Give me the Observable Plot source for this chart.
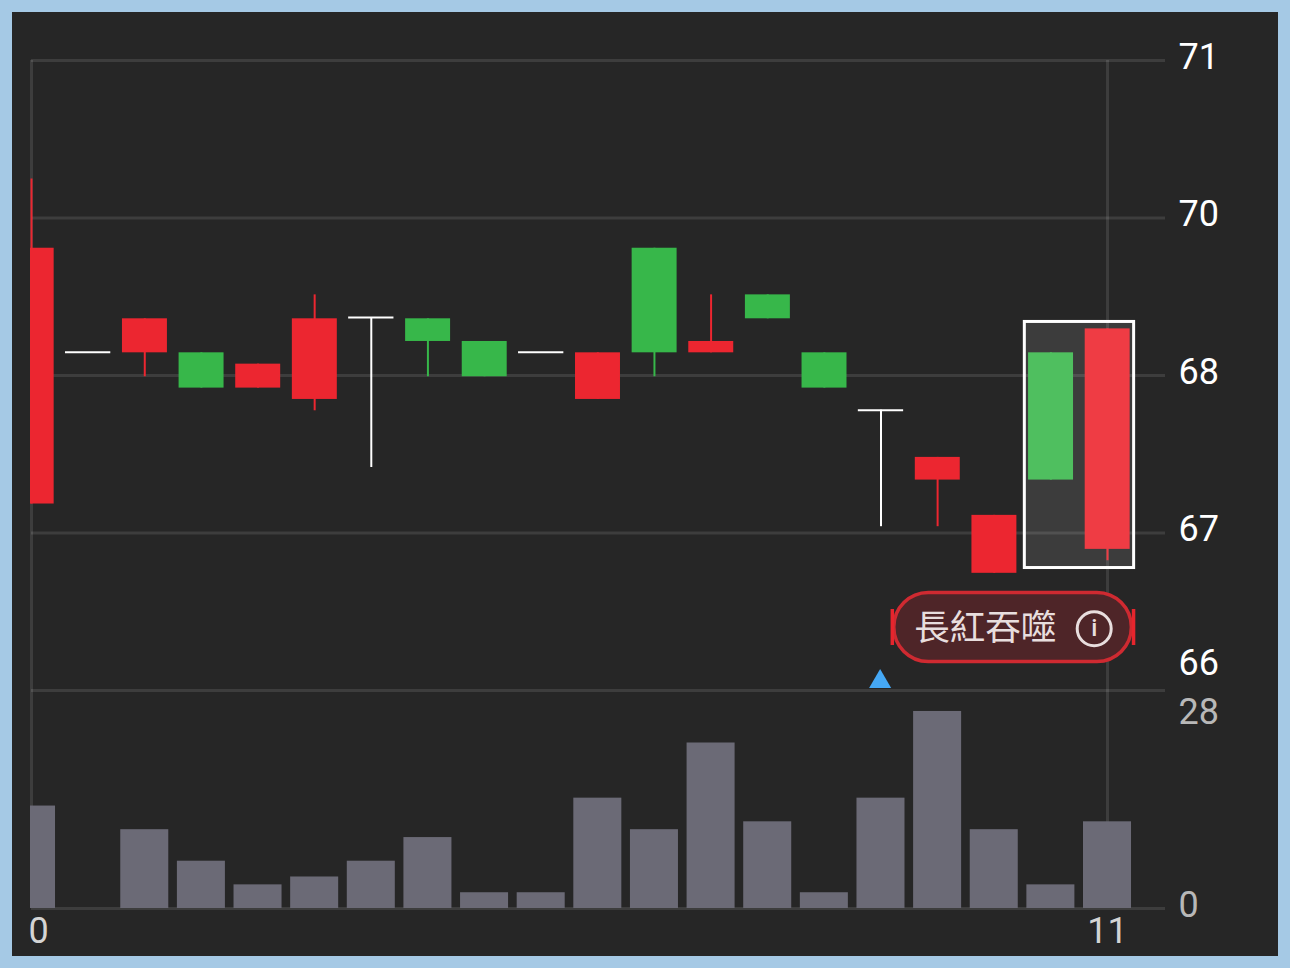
<!DOCTYPE html>
<html>
<head>
<meta charset="utf-8">
<script src="https://cdn.jsdelivr.net/npm/d3@7"></script>
<script src="https://cdn.jsdelivr.net/npm/@observablehq/plot@0.6"></script>
<style>
html,body{margin:0;padding:0;width:1290px;height:968px;background:#a5c9e5;overflow:hidden}
#panel{position:absolute;left:12px;top:12px;width:1266px;height:944px;background:#262626}
#top,#bottom{position:absolute;left:0}
#top{top:0}#bottom{top:690px}
svg{display:block}
</style>
</head>
<body>
<div id="panel"></div>
<div id="top"></div>
<div id="bottom"></div>
<script>
const opens  = [67.48,68.685,68.68,68.68,68.40,68.31,68.96,68.95,68.77,68.685,68.31,69.51,68.68,69.14,68.68,68.225,67.67,66.93,68.68,67.12];
const closes = [69.51,68.685,68.95,68.40,68.59,68.95,68.96,68.77,68.49,68.685,68.68,68.68,68.77,68.95,68.40,68.225,67.85,67.39,67.67,68.87];
const highs  = [70.06,68.685,68.95,68.68,68.59,69.14,68.96,68.95,68.77,68.685,68.68,69.51,69.14,69.14,68.68,68.225,67.85,67.39,68.68,68.87];
const lows   = [67.48,68.685,68.49,68.40,68.40,68.22,67.77,68.49,68.49,68.685,68.31,68.49,68.68,68.95,68.40,67.30,67.30,66.93,67.67,67.03];
const volumes = [13,0,10,6,3,4,6,9,2,2,14,10,21,11,2,14,25,10,3,11];

const priceTicks = [71,69.75,68.5,67.25,66];
const priceLabels = ["71","70","68","67","66"];
const volumeTicks = [27.66,0];
const volumeLabels = ["28","0"];
const timeTicks = [0,19];
const timeLabels = ["0","11"];
const patternName = "長紅吞噬";
const highlightFrom = 18;

const kinds = ["up","down","flat","upHi","downHi"];
const kindColors = ["#ec2630","#37b74a","#ffffff","#ef3c44","#4fbf5f"];
const candles = opens.map((o,i)=>{
  const dir = closes[i]>o ? "up" : closes[i]<o ? "down" : "flat";
  return {i,o,c:closes[i],h:highs[i],l:lows[i],kind: i>=highlightFrom ? dir+"Hi" : dir};
});
const bars = volumes.map((v,i)=>({i,v}));

const xScale = {domain:[-0.0177,20.024],axis:null};
const font = "Roboto, sans-serif";
const gridColor = "rgba(255,255,255,0.11)";
const halfBody = 0.4, halfBar = 0.424;
const bodyShift = 0.006;

const priceChart = Plot.plot({
  width:1290,height:692,marginLeft:30,marginRight:125,marginTop:60,marginBottom:2,
  style:{background:"transparent",fontFamily:font},
  x:xScale,
  y:{domain:[66,71],range:[690,60],axis:null},
  color:{domain:kinds,range:kindColors},
  marks:[
    Plot.rect([0],{x1:17.54,x2:19.47,y1:68.925,y2:66.972,fill:"#3c3c3c"}),
    Plot.ruleY(priceTicks,{x1:0,x2:20.024,stroke:gridColor,strokeWidth:3}),
    Plot.ruleX(timeTicks,{y1:66,y2:71,stroke:gridColor,strokeWidth:3}),
    Plot.rect([0],{x1:17.54,x2:19.47,y1:68.925,y2:66.972,fill:"none",stroke:"#fff",strokeWidth:3}),
    Plot.ruleX(candles,{x:"i",y1:"l",y2:"h",stroke:"kind",strokeWidth:2,clip:true}),
    Plot.rect(candles.filter(d=>d.o!==d.c),{x1:d=>d.i-halfBody+bodyShift,x2:d=>d.i+halfBody,y1:"o",y2:"c",fill:"kind",inset:0,clip:true}),
    Plot.ruleY(candles.filter(d=>d.o===d.c),{y:"o",x1:d=>d.i-halfBody,x2:d=>d.i+halfBody,stroke:"kind",strokeWidth:2}),
    Plot.text(priceTicks.slice(0,4),{y:d=>d,x:20.024,text:(d,i)=>priceLabels[i],dx:13,dy:-3.5,textAnchor:"start",fill:"#fff",fontSize:36,fontFamily:font}),
    Plot.text(priceTicks.slice(4),{y:d=>d,x:20.024,text:()=>priceLabels[4],dx:13,dy:-27,textAnchor:"start",fill:"#fff",fontSize:36,fontFamily:font}),
    Plot.rect([0],{x1:15.235,x2:19.43,y1:66.774,y2:66.226,fill:"#4e2528",stroke:"#cf2a31",strokeWidth:3.5,rx:34.5}),
    Plot.ruleX([15.2,19.46],{y1:66.357,y2:66.643,stroke:"#e6252d",strokeWidth:3.5}),
    Plot.text([0],{x:16.84,y:66.49,text:()=>patternName,fill:"#e8dede",fontSize:35.5,fontFamily:"'Noto Sans CJK TC'"}),
    Plot.dot([0],{x:18.765,y:66.49,r:17,fill:"none",stroke:"#e8dede",strokeWidth:3}),
    Plot.text([0],{x:18.765,y:66.49,text:()=>"i",fill:"#e8dede",fontSize:24,fontWeight:500,fontFamily:font}),
    Plot.dot([0],{x:14.985,y:66.07,symbol:"triangle",r:8.2,fill:"#45a8f5"})
  ]
});
document.getElementById("top").append(priceChart);

const volumeChart = Plot.plot({
  width:1290,height:278,marginLeft:30,marginRight:125,marginTop:0,marginBottom:60,
  style:{background:"transparent",fontFamily:font},
  x:xScale,
  y:{domain:[0,27.66],range:[218,0],axis:null},
  marks:[
    Plot.ruleY([0],{x1:0,x2:20.024,stroke:gridColor,strokeWidth:3}),
    Plot.ruleX(timeTicks,{y1:0,y2:27.66,stroke:gridColor,strokeWidth:3}),
    Plot.rect(bars,{x1:d=>d.i-halfBar,x2:d=>d.i+halfBar,y1:0,y2:"v",fill:"#6b6a76",clip:true}),
    Plot.text(volumeTicks.slice(0,1),{y:d=>d,x:20.024,text:()=>volumeLabels[0],dx:13,dy:22,textAnchor:"start",fill:"#b8b8b8",fontSize:36,fontFamily:font}),
    Plot.text(volumeTicks.slice(1),{y:d=>d,x:20.024,text:()=>volumeLabels[1],dx:13,dy:-3,textAnchor:"start",fill:"#b8b8b8",fontSize:36,fontFamily:font}),
    Plot.text(timeTicks.slice(0,1),{x:d=>d,y:0,text:()=>timeLabels[0],dx:-3,dy:23,textAnchor:"start",fill:"#d4d4d4",fontSize:36,fontFamily:font}),
    Plot.text(timeTicks.slice(1),{x:d=>d,y:0,text:()=>timeLabels[1],dy:23,textAnchor:"middle",fill:"#d4d4d4",fontSize:36,fontFamily:font})
  ]
});
document.getElementById("bottom").append(volumeChart);
</script>
</body>
</html>
